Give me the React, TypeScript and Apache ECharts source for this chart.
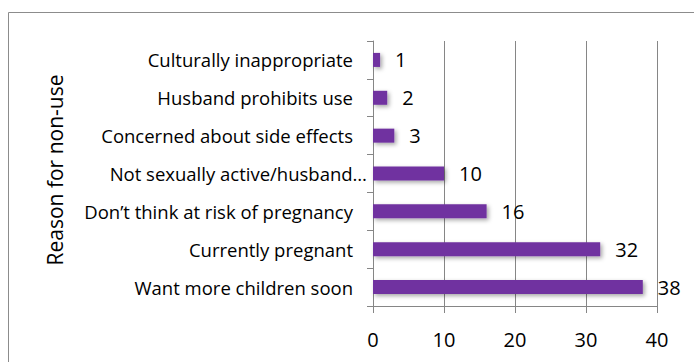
import React, { useEffect, useRef } from "react";
import * as echarts from "echarts";

// Reasons for not using contraception, bottom to top on the category axis
const reasons = [
  "Want more children soon",
  "Currently pregnant",
  "Don\u2019t think at risk of pregnancy",
  "Not sexually active/husband\u2026",
  "Concerned about side effects",
  "Husband prohibits use",
  "Culturally inappropriate",
];
const counts = [38, 32, 16, 10, 3, 2, 1];
const xTicks = [0, 10, 20, 30, 40];

const FONT = "'Open Sans', 'Noto Sans', sans-serif";
const PURPLE = "#7030A0";
const GRID_GREY = "#868686";

export default function App() {
  const ref = useRef<HTMLDivElement>(null);

  useEffect(() => {
    if (!ref.current) return;
    const chart = echarts.init(ref.current, undefined, { renderer: "svg" });
    chart.setOption({
      animation: false,
      backgroundColor: "#ffffff",
      graphic: [
        {
          type: "rect",
          shape: { x: 8.5, y: 12.5, width: 720, height: 400 },
          style: { fill: "none", stroke: "#8c8c8c", lineWidth: 1 },
          silent: true,
        },
      ],
      grid: { left: 373, right: 37, top: 41, bottom: 56, containLabel: false },
      xAxis: {
        type: "value",
        min: xTicks[0],
        max: xTicks[xTicks.length - 1],
        interval: 10,
        axisLine: { show: true, lineStyle: { color: GRID_GREY, width: 1 } },
        axisTick: { show: true, length: 7, lineStyle: { color: GRID_GREY } },
        splitLine: { show: true, lineStyle: { color: GRID_GREY, width: 1 } },
        axisLabel: {
          color: "#000",
          fontFamily: FONT,
          fontSize: 20,
          margin: 23,
        },
      },
      yAxis: {
        type: "category",
        data: reasons.map((r) =>
          r.endsWith("\u2026")
            ? { value: r, textStyle: { padding: [0, -14, 0, 0] } }
            : r
        ),
        name: "Reason for non-use",
        nameLocation: "middle",
        nameGap: 292,
        nameRotate: 90,
        nameTextStyle: {
          color: "#000",
          fontFamily: FONT,
          fontSize: 21,
          padding: [0, 0, 16, 7],
        },
        axisLine: { show: true, lineStyle: { color: GRID_GREY, width: 1 } },
        axisTick: { show: true, length: 6, lineStyle: { color: GRID_GREY } },
        splitLine: { show: false },
        axisLabel: {
          color: "#000",
          fontFamily: FONT,
          fontSize: 18.5,
          margin: 20,
        },
      },
      series: [
        {
          type: "bar",
          data: counts,
          barWidth: 14,
          itemStyle: {
            color: PURPLE,
            shadowColor: "rgba(0,0,0,0.35)",
            shadowBlur: 4,
            shadowOffsetX: 2,
            shadowOffsetY: 2,
          },
          label: {
            show: true,
            position: "right",
            distance: 15,
            color: "#000",
            fontFamily: FONT,
            fontSize: 20,
          },
        },
      ],
    });
    return () => chart.dispose();
  }, []);

  return (
    <div
      ref={ref}
      style={{ position: "fixed", left: 0, top: 0, width: 694, height: 362 }}
    />
  );
}
